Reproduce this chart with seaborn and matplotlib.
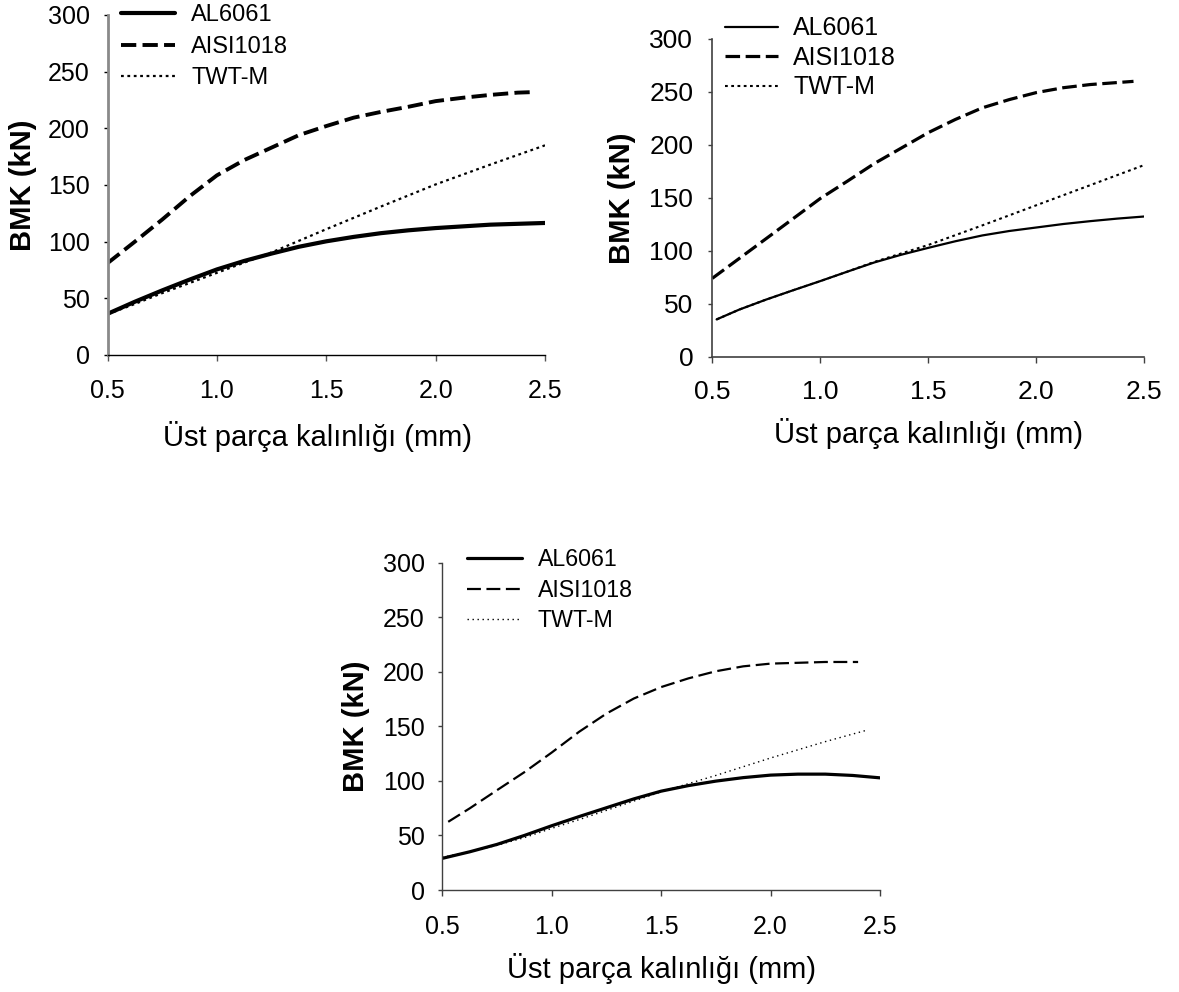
import matplotlib
matplotlib.use("Agg")
import matplotlib.pyplot as plt
import pandas as pd
import seaborn as sns

# Upper sheet thickness (mm) vs. maximum load (kN) for three joint configurations
series_names = ["AL6061", "AISI1018", "TWT-M"]

# Panel A
a_al_x = [0.5, 0.625, 0.75, 0.875, 1.0, 1.125, 1.25, 1.375, 1.5, 1.625,
          1.75, 1.875, 2.0, 2.25, 2.5]
a_al_y = [36.3, 47, 57, 66.5, 75.5, 83, 89.5, 95.5, 100.3, 104.2,
          107.5, 110, 112, 115, 116.5]
a_aisi_x = [0.5, 0.625, 0.75, 0.875, 1.0, 1.125, 1.25, 1.375, 1.5, 1.625,
            1.75, 1.875, 2.0, 2.125, 2.25, 2.375, 2.45]
a_aisi_y = [81, 100, 119.5, 140, 158.5, 172, 183, 194, 202, 209.4,
            214.5, 219, 224, 227, 229.5, 231.5, 232]
a_twt_x = [0.5, 0.625, 0.75, 0.875, 1.0, 1.125, 1.25, 1.5, 1.75, 2.0, 2.25, 2.5]
a_twt_y = [36, 45, 54.6, 63.5, 72.5, 81.5, 90.5, 111, 131, 150.5, 168, 185]

# Panel B
b_al_x = [0.52, 0.625, 0.75, 0.875, 1.0, 1.125, 1.25, 1.375, 1.5, 1.625,
          1.75, 1.875, 2.0, 2.125, 2.25, 2.375, 2.5]
b_al_y = [35.2, 44.5, 54, 62.8, 71.4, 80.3, 89, 96.3, 102.8, 109,
          114.5, 118.7, 122, 125.3, 128, 130.4, 132.4]
b_aisi_x = [0.5, 0.625, 0.75, 0.875, 1.0, 1.125, 1.25, 1.375, 1.5, 1.625,
            1.75, 1.875, 2.0, 2.125, 2.25, 2.45]
b_aisi_y = [74, 92.8, 111.6, 130.5, 149.4, 165.7, 182.4, 197, 211.6, 224,
            235, 242.8, 249.4, 254, 257, 260]
b_twt_x = [0.52, 0.625, 0.75, 0.875, 1.0, 1.125, 1.25, 1.5, 1.75, 2.0, 2.25, 2.5]
b_twt_y = [35.2, 44.5, 54, 62.8, 71.4, 80.3, 89.5, 105.5, 124, 143, 162, 181]

# Panel C
c_al_x = [0.5, 0.625, 0.75, 0.875, 1.0, 1.125, 1.25, 1.375, 1.5, 1.625,
          1.75, 1.875, 2.0, 2.125, 2.25, 2.375, 2.5]
c_al_y = [29, 35, 41.8, 50, 58.9, 67.3, 75.4, 83.5, 90.6, 95.7,
          99.8, 103, 105.3, 106.2, 106.2, 105, 102.8]
c_aisi_x = [0.527, 0.625, 0.75, 0.875, 1.0, 1.125, 1.25, 1.375, 1.5, 1.625,
            1.75, 1.875, 2.0, 2.25, 2.4]
c_aisi_y = [62.5, 74.8, 91.5, 108, 126, 145, 161.7, 175.5, 186, 194,
            200.5, 205, 207.5, 209, 209]
c_twt_x = [0.5, 0.625, 0.75, 0.875, 1.0, 1.125, 1.25, 1.5, 1.75, 2.0, 2.25, 2.44]
c_twt_y = [30, 35, 41, 48, 56.5, 64.5, 73, 90, 105, 121, 136, 146.5]

x_ticks = [0.5, 1.0, 1.5, 2.0, 2.5]
x_tick_labels = ["0.5", "1.0", "1.5", "2.0", "2.5"]
y_ticks = [0, 50, 100, 150, 200, 250, 300]
x_label = "Üst parça kalınlığı (mm)"
y_label = "BMK (kN)"

sns.set_style("ticks")
plt.rcParams["font.family"] = ["Liberation Sans", "DejaVu Sans"]
plt.rcParams["lines.scale_dashes"] = False
for key in ("text.color", "axes.labelcolor", "xtick.labelcolor", "ytick.labelcolor"):
    plt.rcParams[key] = "black"

W, H = 1179, 992
fig = plt.figure(figsize=(W / 100, H / 100), dpi=100)


def px_axes(left, top, right, bottom):
    return fig.add_axes([left / W, 1 - bottom / H, (right - left) / W, (bottom - top) / H])


panels = [
    dict(
        box=(107.5, 15, 545, 355),
        data=[(a_al_x, a_al_y), (a_aisi_x, a_aisi_y), (a_twt_x, a_twt_y)],
        styles=[("-", 3.0), ((0, (11, 4.5)), 2.8), ((0, (2.0, 2.6)), 1.6)],
        yspine=("#8a8a8a", 2.0), xspine=("black", 1.0),
        ytick_color="black", xtick_color="#555555",
        tick_fs=18, leg_fs=17, lab_fs=21,
        ylab_x=-0.161, xlab_y=-0.194, xlab_x=0.48,
        leg=dict(x=120.7, top=4.4, hl=54, tp=16.5, pitch=31.7),
        ypad=9.5, xpad=13.5,
    ),
    dict(
        box=(712.3, 39, 1144.3, 356.7),
        data=[(b_al_x, b_al_y), (b_aisi_x, b_aisi_y), (b_twt_x, b_twt_y)],
        styles=[("-", 1.6), ((0, (10.5, 4)), 2.3), ((0, (2.0, 2.5)), 1.5)],
        yspine=("#404040", 1.2), xspine=("#404040", 1.2),
        ytick_color="#404040", xtick_color="#404040",
        tick_fs=19, leg_fs=18, lab_fs=21,
        ylab_x=-0.177, xlab_y=-0.193, xlab_x=0.5,
        leg=dict(x=725, top=16.3, hl=52.5, tp=15.5, pitch=29),
        ypad=10.5, xpad=13,
    ),
    dict(
        box=(442.3, 562.7, 880, 890),
        data=[(c_al_x, c_al_y), (c_aisi_x, c_aisi_y), (c_twt_x, c_twt_y)],
        styles=[("-", 2.3), ((0, (10, 4)), 1.6), ((0, (1.0, 2.6)), 1.0)],
        yspine=("#404040", 1.0), xspine=("#404040", 1.0),
        ytick_color="#404040", xtick_color="#404040",
        tick_fs=18, leg_fs=16.7, lab_fs=21,
        ylab_x=-0.165, xlab_y=-0.1925, xlab_x=0.5,
        leg=dict(x=466.7, top=548, hl=55, tp=16.3, pitch=29.5),
        ypad=9.6, xpad=13.7,
    ),
]

for p in panels:
    ax = px_axes(*p["box"])
    for name, (xs, ys), (ls, lw) in zip(series_names, p["data"], p["styles"]):
        df = pd.DataFrame({"t": xs, "load": ys})
        sns.lineplot(data=df, x="t", y="load", ax=ax, color="black",
                     linestyle=ls, linewidth=lw, label=name)

    ax.set_xlim(0.5, 2.5)
    ax.set_ylim(0, 300)
    ax.set_xticks(x_ticks)
    ax.set_xticklabels(x_tick_labels)
    ax.set_yticks(y_ticks)
    sns.despine(ax=ax)
    ax.spines["left"].set_color(p["yspine"][0])
    ax.spines["left"].set_linewidth(p["yspine"][1])
    ax.spines["bottom"].set_color(p["xspine"][0])
    ax.spines["bottom"].set_linewidth(p["xspine"][1])
    ax.tick_params(axis="y", direction="out", length=3.2, width=1.0,
                   color=p["ytick_color"], labelsize=p["tick_fs"], pad=p["ypad"])
    ax.tick_params(axis="x", direction="out", length=4.0, width=1.0,
                   color=p["xtick_color"], labelsize=p["tick_fs"], pad=p["xpad"])

    ax.set_xlabel(x_label, fontsize=p["lab_fs"])
    ax.set_ylabel(y_label, fontsize=p["lab_fs"], fontweight="bold")
    ax.xaxis.set_label_coords(p["xlab_x"], p["xlab_y"])
    ax.yaxis.set_label_coords(p["ylab_x"], 0.5)

    lg = p["leg"]
    fs = p["leg_fs"]
    em = fs / 0.72
    ax.legend(loc="upper left", frameon=False,
              bbox_to_anchor=(lg["x"] / W, 1 - lg["top"] / H),
              bbox_transform=fig.transFigure,
              borderpad=0, borderaxespad=0, fontsize=fs,
              handlelength=lg["hl"] / em, handletextpad=lg["tp"] / em,
              labelspacing=(lg["pitch"] - 0.94 * em) / em)

fig.savefig("out.png", dpi=100, facecolor="white")
